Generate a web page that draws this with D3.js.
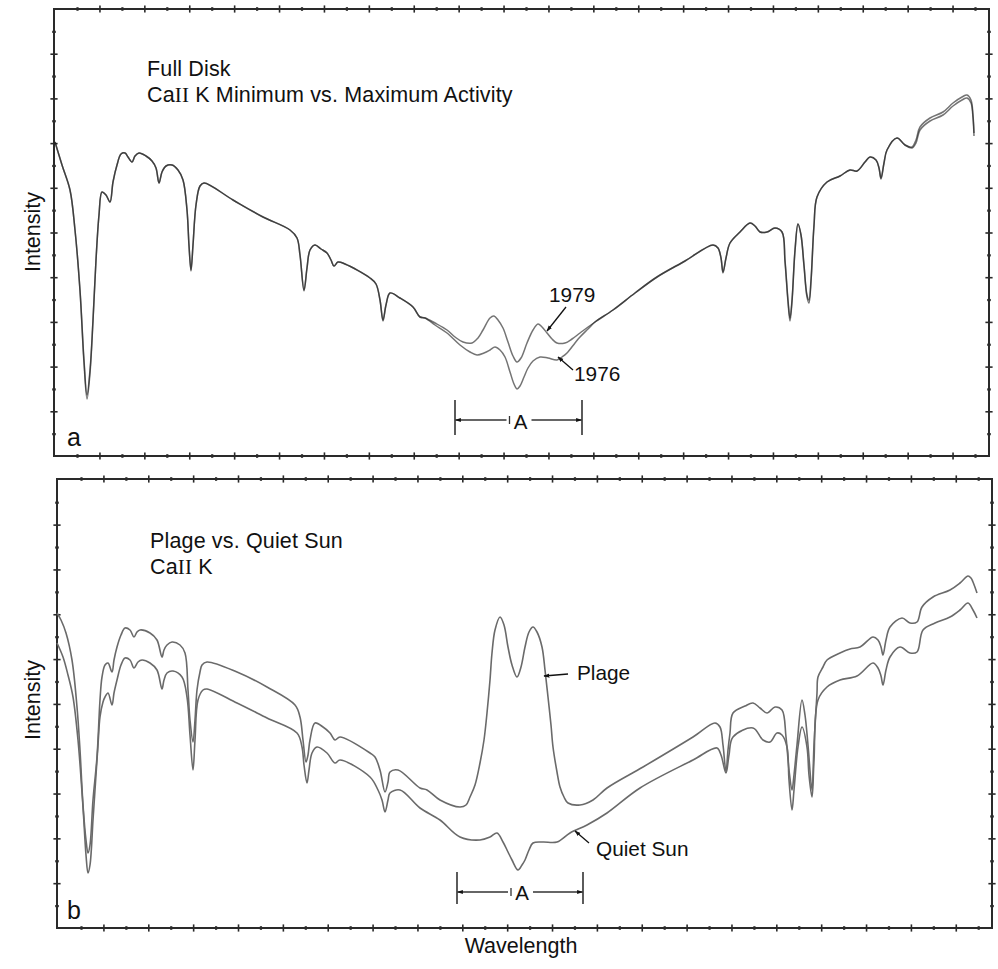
<!DOCTYPE html>
<html>
<head>
<meta charset="utf-8">
<script src="https://cdn.jsdelivr.net/npm/d3@7"></script>
<style>
  body { margin: 0; background: #fff; }
  svg { display: block; }
  text { font-family: "Liberation Sans", Arial, Helvetica, sans-serif; fill: #111; }
</style>
</head>
<body>
<svg id="chart" width="998" height="969"></svg>
<script>
// ---- Panel a: full-disk Ca II K profiles, solar minimum (1976) vs maximum (1979) ----
const wl1979 = [0.1,0.8,1.6,2.1,2.6,3.0,3.3,3.6,3.9,4.2, 4.5,4.8,5.2,5.6,5.9,6.3,6.7,7.1,7.4,7.8,
  8.1,8.5,9.2,9.8,10.2,10.5,10.8,11.2,11.8,12.4, 12.9,13.3,13.5,13.7,13.9,14.2,14.6,15.0,17.9,20.9,
  23.6,24.3,24.6,25.0,25.3,25.6,26.1,26.7,27.3,27.7, 28.0,28.4,29.1,31.6,32.2,32.6,32.9,33.2,33.6,34.6,
  35.9,36.6,37.1,38.1,39.3,40.1,40.9,41.8,42.4,42.9, 43.6,44.0,44.4,44.9,45.4,45.9,46.3,46.7,47.3,47.9,
  48.4,48.8,49.3,49.8,50.3,51.1,51.8,52.6,54.1,55.9, 58.1,60.3,63.1,65.9,66.4,66.7,66.9,67.2,67.6,68.6,
  69.6,70.1,70.6,71.3,72.1,72.8,73.1,73.4,73.6,73.8, 74.1,74.4,74.7,75.0,75.3,75.5,75.7,76.0,76.3,77.3,
  78.6,79.6,80.3,81.1,81.6,82.2,82.5,82.7,83.0,83.3, 84.3,85.1,85.8,86.2,86.6,87.6,88.9,89.9,90.8,91.3,
  91.7,91.9,92.0];
const int1979 = [31.4,29.1,26.6,22.6,16.6,9.6,6.1,8.6,13.6,19.6, 24.1,26.4,26.1,25.4,27.4,29.1,30.2,30.3,29.9,29.4,
  30.0,30.3,30.0,29.5,28.8,27.3,28.4,29.0,29.1,28.6, 27.6,24.6,21.1,18.6,21.1,25.1,27.0,27.3,25.6,23.9,
  22.6,21.8,20.1,16.6,18.8,20.6,21.1,20.7,20.3,19.6, 19.0,19.4,19.2,17.8,17.2,15.6,13.6,15.1,16.3,15.8,
  14.9,13.9,13.8,13.3,12.6,11.9,11.4,11.3,11.8,12.6, 13.8,14.0,13.6,12.8,11.4,10.0,9.4,9.8,11.3,12.6,
  13.2,12.9,12.3,11.7,11.3,11.3,11.7,12.3,13.4,14.6, 16.3,17.9,19.5,21.1,20.8,19.8,18.4,19.8,21.3,22.4,
  23.3,23.0,22.4,22.4,22.8,22.4,19.6,15.6,13.8,15.6, 20.6,23.2,22.1,19.1,16.1,15.6,17.6,23.1,25.9,27.4,
  28.0,28.6,28.5,29.4,29.9,29.6,28.8,27.8,29.3,30.6, 31.8,31.1,30.9,31.6,32.9,33.8,34.4,35.3,35.9,36.1,
  35.6,34.1,32.3];

const wl1976 = [0.1,0.8,1.6,2.1,2.6,3.0,3.3,3.6,3.9,4.2, 4.5,4.8,5.2,5.6,5.9,6.3,6.7,7.1,7.4,7.8,
  8.1,8.5,9.2,9.8,10.2,10.5,10.8,11.2,11.8,12.4, 12.9,13.3,13.5,13.7,13.9,14.2,14.6,15.0,17.9,20.9,
  23.6,24.3,24.6,25.0,25.3,25.6,26.1,26.7,27.3,27.7, 28.0,28.4,29.1,31.6,32.2,32.6,32.9,33.2,33.6,34.6,
  35.9,36.6,37.1,38.1,39.3,40.6,41.6,42.3,43.0,43.6, 44.1,44.6,45.1,45.6,46.0,46.3,46.6,47.0,47.4,47.9,
  48.6,49.4,50.3,50.8,51.3,52.1,52.6,53.4,54.1,55.9, 58.1,60.3,63.1,65.9,66.4,66.7,66.9,67.2,67.6,68.6,
  69.6,70.1,70.6,71.3,72.1,72.8,73.1,73.4,73.6,73.8, 74.1,74.4,74.7,75.0,75.3,75.5,75.7,76.0,76.3,77.3,
  78.6,79.6,80.3,81.1,81.6,82.2,82.5,82.7,83.0,83.3, 84.3,85.1,85.8,86.2,86.6,87.6,88.9,89.9,90.8,91.3,
  91.7,91.9,92.0];
const int1976 = [31.4,29.1,26.6,22.6,16.5,9.3,5.7,8.3,13.5,19.6, 24.1,26.4,26.1,25.4,27.4,29.1,30.2,30.3,29.9,29.4,
  30.0,30.3,30.0,29.5,28.8,27.3,28.4,29.0,29.1,28.6, 27.6,24.6,21.0,18.5,21.1,25.1,27.0,27.3,25.6,23.9,
  22.6,21.8,20.1,16.5,18.8,20.6,21.1,20.7,20.3,19.6, 19.0,19.4,19.2,17.8,17.2,15.6,13.5,15.1,16.3,15.8,
  14.9,13.9,13.8,13.1,12.3,11.1,10.4,10.1,10.3,10.6, 10.9,10.6,9.9,8.4,7.2,6.7,7.0,7.9,8.8,9.5,
  9.9,9.8,9.6,9.9,10.3,11.3,11.9,12.7,13.4,14.6, 16.3,17.9,19.5,21.1,20.8,19.8,18.3,19.8,21.3,22.4,
  23.3,23.0,22.4,22.4,22.8,22.4,19.4,15.4,13.5,15.4, 20.5,23.2,22.1,19.0,15.9,15.3,17.4,23.0,25.9,27.4,
  28.0,28.6,28.5,29.4,29.9,29.6,28.8,27.7,29.3,30.6, 31.8,31.1,30.8,31.3,32.6,33.5,34.1,35.0,35.6,35.8,
  35.3,33.8,32.0];

// ---- Panel b: plage vs quiet-sun Ca II K profiles ----
const wlPlage = [0.0,0.4,0.9,1.5,2.0,2.3,2.6,2.9,3.1,3.3, 3.6,4.0,4.3,4.5,4.8,5.1,5.5,5.7,6.0,6.4,
  6.8,7.3,7.7,8.0,8.3,9.3,10.0,10.5,10.7,11.0, 11.5,12.3,12.8,13.1,13.3,13.6,13.8,14.0,14.3,14.5,
  15.0,18.0,21.0,23.8,24.3,24.6,24.9,25.1,25.3,25.8, 26.6,27.3,27.8,28.3,31.3,31.8,32.3,32.8,33.1,33.3,
  34.1,36.3,37.0,38.3,40.3,40.9,41.3,41.8,42.3,42.7, 43.0,43.3,43.5,43.8,44.3,44.7,45.1,45.5,46.0,46.4,
  46.8,47.2,47.6,48.0,48.5,48.8,49.1,49.4,49.6,50.0, 50.3,50.7,51.1,52.3,53.6,55.0,58.6,63.6,65.8,66.3,
  66.6,66.9,67.1,67.3,67.6,68.8,69.6,70.3,71.0,71.8, 72.5,72.9,73.2,73.5,73.7,74.0,74.5,74.8,75.1,75.5,
  75.7,76.0,76.1,76.6,77.0,78.3,79.3,80.3,81.6,82.1, 82.4,82.6,82.9,83.3,84.5,85.3,86.0,86.5,87.6,89.3,
  90.3,91.1,91.4,91.6,92.0];
const intPlage = [31.5,30.8,29.5,26.8,22.1,17.8,12.3,8.8,7.5,8.3, 12.8,17.1,22.8,25.1,26.3,26.5,25.6,26.8,28.1,29.3,
  30.0,29.8,29.1,29.6,29.8,29.5,28.8,27.1,27.8,28.3, 28.6,28.3,27.5,23.8,20.8,18.6,20.8,23.8,25.6,26.3,
  26.6,25.6,24.1,22.3,21.1,18.8,16.6,17.3,18.8,20.5, 20.1,19.5,18.8,19.1,17.5,17.1,15.8,13.6,14.6,15.6,
  15.8,14.0,13.8,12.8,12.1,12.3,13.1,14.3,16.5,18.8, 21.5,24.8,27.5,29.8,31.1,30.3,28.1,26.3,25.1,26.1,
  28.1,29.6,30.1,29.6,28.1,25.8,23.1,20.3,18.1,15.6, 14.1,13.1,12.5,12.3,12.8,14.0,16.1,19.1,20.5,20.1,
  18.3,15.6,17.8,19.5,21.5,22.2,22.5,22.0,21.5,22.1, 21.8,19.1,15.8,13.8,15.3,18.3,22.8,21.3,18.3,13.8,
  18.3,23.5,25.1,26.1,26.8,27.5,27.9,28.1,29.1,28.8, 28.1,27.3,28.8,30.1,31.0,30.5,30.6,32.1,33.1,33.8,
  34.5,35.2,35.0,34.6,33.5];

const wlQuiet = [0.0,0.6,1.1,1.6,2.1,2.6,2.9,3.1,3.3,3.6, 3.8,4.1,4.3,4.6,4.8,5.1,5.5,5.7,6.0,6.4,
  6.8,7.3,7.7,8.1,8.5,9.3,10.0,10.5,10.7,11.0, 11.6,12.5,13.0,13.3,13.6,13.8,14.1,14.6,15.0,18.0,
  21.0,24.0,24.5,24.7,25.0,25.2,25.5,26.0,27.0,27.8, 28.3,31.3,32.1,32.5,32.8,33.1,33.3,34.3,36.3,38.3,
  40.3,42.3,43.3,44.0,44.6,45.1,45.5,46.1,46.5,46.8, 47.2,47.6,48.6,50.0,51.3,53.0,55.0,58.3,63.6,66.0,
  66.4,66.9,67.2,67.6,69.6,70.6,71.3,72.0,72.5,73.0, 73.2,73.5,73.7,74.1,74.5,75.0,75.2,75.5,75.7,76.1,
  77.0,78.3,80.0,81.6,82.1,82.4,82.6,82.9,83.3,84.3, 85.3,86.0,86.6,87.8,89.3,90.3,91.1,91.6,92.0];
const intQuiet = [28.5,27.1,25.3,23.1,18.8,12.1,7.3,5.5,6.3,10.8, 13.8,18.3,21.1,22.6,23.1,23.5,22.3,23.5,24.8,26.3,
  27.0,26.8,26.0,26.6,26.8,26.5,25.8,23.9,24.8,25.5, 25.7,25.1,23.1,19.3,15.8,18.8,22.8,23.8,23.9,22.5,
  21.0,19.5,18.1,16.3,14.5,15.8,17.5,18.1,17.5,16.5, 16.8,15.1,13.8,12.8,11.6,12.8,13.5,13.8,12.0,10.8,
  9.1,8.8,9.1,9.5,8.6,7.6,6.8,5.8,6.3,6.8, 7.8,8.5,8.6,8.6,9.5,10.3,11.5,14.0,16.8,18.0,
  17.3,15.5,17.3,19.1,20.0,18.8,18.6,19.5,19.3,18.1, 14.8,11.8,13.8,18.1,20.1,18.1,15.3,13.1,16.8,22.8,
  24.1,24.8,25.2,26.5,26.0,25.2,24.3,25.8,27.1,28.1, 27.5,27.6,29.8,30.5,31.1,31.8,32.5,31.8,31.0];

// Titles and labels
const titleA = ["Full Disk", "CaII K Minimum vs. Maximum Activity"];
const titleB = ["Plage vs. Quiet Sun", "CaII K"];
const panelLetters = ["a", "b"];
const yAxisLabel = "Intensity";
const xAxisLabel = "Wavelength";

// K-line core interval "A" (wavelength units)
const intervalA = [40.1, 52.8];
const intervalB = [40.0, 52.6];

const svg = d3.select("#chart");

const defs = svg.append("defs");
defs.append("marker")
  .attr("id", "head").attr("viewBox", "0 0 10 10")
  .attr("refX", 9).attr("refY", 5)
  .attr("markerWidth", 6).attr("markerHeight", 6)
  .attr("markerUnits", "userSpaceOnUse")
  .attr("orient", "auto-start-reverse")
  .append("path").attr("d", "M0,1.5L10,5L0,8.5Z").attr("fill", "#111");

const panels = [
  { id: "a", left: 54, right: 989, top: 9, bottom: 456, xMax: 93.5, yMax: 44.7,
    xTick0: 2.3, xStep: 2.245, yStep: 2.235 },
  { id: "b", left: 57, right: 992, top: 479, bottom: 928, xMax: 93.5, yMax: 44.9,
    xTick0: 2.4, xStep: 2.243, yStep: 2.241 }
];

panels.forEach(p => {
  p.x = d3.scaleLinear().domain([0, p.xMax]).range([p.left, p.right]);
  p.y = d3.scaleLinear().domain([0, p.yMax]).range([p.bottom, p.top]);
  p.g = svg.append("g").attr("class", "panel-" + p.id);
});

// Frame and crossing tick marks on all four sides
panels.forEach(p => {
  const g = p.g;
  const xTicks = d3.range(41).map(k => p.xTick0 + k * p.xStep);
  const yTicks = d3.range(1, 20).map(k => k * p.yStep);
  const xMajor = new Set(d3.range(1, 41, 2).map(k => xTicks[k]));
  const yMajor = new Set(d3.range(2, 20, 2).map(k => yTicks[k - 1]));

  const sides = [
    { axis: d3.axisBottom(p.x).tickValues(xTicks), tr: `translate(0,${p.bottom})`, horiz: true, maj: xMajor },
    { axis: d3.axisTop(p.x).tickValues(xTicks), tr: `translate(0,${p.top})`, horiz: true, maj: xMajor },
    { axis: d3.axisLeft(p.y).tickValues(yTicks), tr: `translate(${p.left},0)`, horiz: false, maj: yMajor },
    { axis: d3.axisRight(p.y).tickValues(yTicks), tr: `translate(${p.right},0)`, horiz: false, maj: yMajor }
  ];
  sides.forEach(s => {
    const ag = g.append("g").attr("transform", s.tr)
      .call(s.axis.tickFormat("").tickSizeOuter(0));
    ag.select(".domain").remove();
    ag.selectAll(".tick line").each(function(d) {
      const len = s.maj.has(d) ? 3.6 : 1.8;
      const sel = d3.select(this).attr("stroke", "#2a2a2a")
        .attr("stroke-width", s.maj.has(d) ? 1.6 : 2.2);
      if (s.horiz) sel.attr("y1", -len).attr("y2", len).attr("x1", 0).attr("x2", 0);
      else sel.attr("x1", -len).attr("x2", len).attr("y1", 0).attr("y2", 0);
    });
  });

  g.append("rect")
    .attr("x", p.left).attr("y", p.top)
    .attr("width", p.right - p.left).attr("height", p.bottom - p.top)
    .attr("fill", "none").attr("stroke", "#2a2a2a").attr("stroke-width", 2);
});

function drawSpectrum(p, wl, val, color, width, opacity) {
  const line = d3.line()
    .x(d => p.x(d[0])).y(d => p.y(d[1]))
    .curve(d3.curveCatmullRom.alpha(0.5));
  p.g.append("path")
    .datum(d3.zip(wl, val))
    .attr("d", line)
    .attr("fill", "none")
    .attr("stroke", color)
    .attr("stroke-width", width)
    .attr("stroke-opacity", opacity)
    .attr("stroke-linejoin", "round");
}

const [pa, pb] = panels;
drawSpectrum(pa, wl1976, int1976, "#1e1e1e", 1.5, 0.62);
drawSpectrum(pa, wl1979, int1979, "#1e1e1e", 1.5, 0.62);
drawSpectrum(pb, wlQuiet, intQuiet, "#6a6a6a", 1.6, 1);
drawSpectrum(pb, wlPlage, intPlage, "#6a6a6a", 1.6, 1);

// Panel titles
function titleBlock(p, lines, y0) {
  lines.forEach((t, i) => {
    const txt = p.g.append("text")
      .attr("x", p.left + 93).attr("y", y0 + i * 26)
      .attr("font-size", 21.5).attr("letter-spacing", 0.15);
    const m = t.match(/^Ca(II)(.*)$/);
    if (m) {
      txt.append("tspan").text("Ca");
      txt.append("tspan").attr("font-family", "'Liberation Serif','Times New Roman',serif")
        .attr("font-size", 21).text("II");
      txt.append("tspan").text(m[2]);
    } else {
      txt.text(t);
    }
  });
}
titleBlock(pa, titleA, 76);
titleBlock(pb, titleB, 548);

// Panel letters
pa.g.append("text").attr("x", 67).attr("y", 446)
  .attr("font-family", "'Open Sans', 'Noto Sans', sans-serif").attr("font-size", 25).text(panelLetters[0]);
pb.g.append("text").attr("x", 67).attr("y", 919)
  .attr("font-family", "'Open Sans', 'Noto Sans', sans-serif").attr("font-size", 25).text(panelLetters[1]);

// Axis labels
[[pa, 232], [pb, 700]].forEach(([p, cy]) => {
  svg.append("text")
    .attr("transform", `translate(40,${cy}) rotate(-90)`)
    .attr("text-anchor", "middle").attr("font-size", 21.5).text(yAxisLabel);
});
svg.append("text").attr("x", 521).attr("y", 953)
  .attr("text-anchor", "middle").attr("font-size", 21.5).text(xAxisLabel);

// Curve callouts
function callout(p, label, from, to, textPos) {
  p.g.append("line")
    .attr("x1", p.x(from[0])).attr("y1", p.y(from[1]))
    .attr("x2", p.x(to[0])).attr("y2", p.y(to[1]))
    .attr("stroke", "#111").attr("stroke-width", 1.3)
    .attr("marker-end", "url(#head)");
  p.g.append("text").attr("x", p.x(textPos[0])).attr("y", p.y(textPos[1]))
    .attr("font-size", 20.8).text(label);
}
callout(pa, "1979", [51.2, 14.9], [49.3, 12.5], [49.5, 15.4]);
callout(pa, "1976", [51.9, 8.6], [50.4, 9.9], [52.0, 7.5]);
callout(pb, "Plage", [51.1, 25.4], [48.7, 25.2], [52.0, 24.8]);
callout(pb, "Quiet Sun", [53.2, 8.5], [51.8, 9.7], [53.9, 7.2]);

// Interval bracket "A"
function bracket(p, iv, yTop, yBot, yMid, labelY) {
  const g = p.g, x0 = p.x(iv[0]), x1 = p.x(iv[1]);
  const xc = (x0 + x1) / 2 + 2;
  [x0, x1].forEach(x => g.append("line")
    .attr("x1", x).attr("x2", x).attr("y1", p.y(yTop)).attr("y2", p.y(yBot))
    .attr("stroke", "#333").attr("stroke-width", 1.6));
  g.append("line").attr("x1", xc - 14).attr("x2", x0 + 0.5)
    .attr("y1", p.y(yMid)).attr("y2", p.y(yMid))
    .attr("stroke", "#333").attr("stroke-width", 1.3).attr("marker-end", "url(#head)");
  g.append("line").attr("x1", xc + 11).attr("x2", x1 - 0.5)
    .attr("y1", p.y(yMid)).attr("y2", p.y(yMid))
    .attr("stroke", "#333").attr("stroke-width", 1.3).attr("marker-end", "url(#head)");
  g.append("line").attr("x1", xc - 11).attr("x2", xc - 11)
    .attr("y1", p.y(yMid) - 4).attr("y2", p.y(yMid) + 4)
    .attr("stroke", "#333").attr("stroke-width", 1.3);
  g.append("text").attr("x", xc).attr("y", p.y(labelY))
    .attr("text-anchor", "middle").attr("font-size", 20.5).text("A");
}
bracket(pa, intervalA, 5.6, 2.1, 3.6, 2.7);
bracket(pb, intervalB, 5.6, 2.4, 3.6, 2.8);
</script>
</body>
</html>
